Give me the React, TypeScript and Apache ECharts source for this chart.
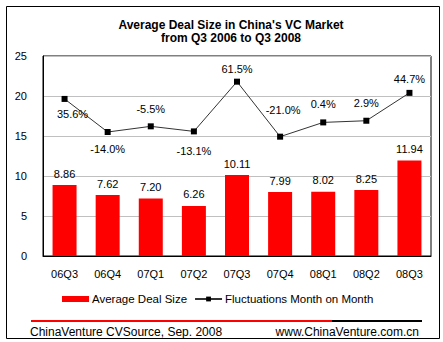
import React, { useEffect, useRef } from "react";
import * as echarts from "echarts";

const categories = ["06Q3", "06Q4", "07Q1", "07Q2", "07Q3", "07Q4", "08Q1", "08Q2", "08Q3"];
const dealSize = [8.86, 7.62, 7.2, 6.26, 10.11, 7.99, 8.02, 8.25, 11.94];
const fluctuation = [35.6, -14.0, -5.5, -13.1, 61.5, -21.0, 0.4, 2.9, 44.7];
const titleLines = ["Average Deal Size in China's VC Market", "from Q3 2006 to Q3 2008"];
const seriesNames = ["Average Deal Size", "Fluctuations Month on Month"];
const footerLeft = "ChinaVenture CVSource, Sep. 2008";
const footerRight = "www.ChinaVenture.com.cn";

// label placement styling for the line series (not data)
const lineLabelStyle: any[] = [
  { position: "bottom", distance: 7, offset: [8, 0] },
  { position: "bottom", distance: 8 },
  { position: "top", distance: 9 },
  { position: "bottom", distance: 11 },
  { position: "top", distance: 4 },
  { position: "top", distance: 5, offset: [3, -13] },
  { position: "top", distance: 10 },
  { position: "top", distance: 9 },
  { position: "top", distance: 5 },
];

const FONT = "Arial, 'Liberation Sans', sans-serif";

export default function App() {
  const ref = useRef<HTMLDivElement>(null);
  useEffect(() => {
    if (!ref.current) return;
    const chart = echarts.init(ref.current, null, { renderer: "svg" });
    chart.setOption({
      animation: false,
      backgroundColor: "#ffffff",
      textStyle: { fontFamily: FONT },
      title: {
        text: titleLines.join("\n"),
        left: 226,
        textAlign: "center",
        top: 13,
        textStyle: { fontFamily: FONT, fontSize: 12, fontWeight: "bold", color: "#000", lineHeight: 13 },
      },
      legend: {
        left: 62,
        top: 293,
        padding: 0,
        itemWidth: 27,
        itemHeight: 6,
        itemGap: 7,
        textStyle: { fontFamily: FONT, fontSize: 11.5, color: "#000", padding: [0, 0, 0, -2] },
        data: [
          { name: seriesNames[0], icon: "rect" },
          { name: seriesNames[1] },
        ],
      },
      grid: {
        left: 43,
        right: 12,
        top: 56,
        bottom: 86,
        show: true,
        borderColor: "#000",
        borderWidth: 1,
        containLabel: false,
      },
      xAxis: {
        type: "category",
        data: categories,
        axisLine: { lineStyle: { color: "#000", width: 1 } },
        axisTick: { show: false },
        axisLabel: { color: "#000", fontSize: 11, fontFamily: FONT, margin: 12 },
      },
      yAxis: [
        {
          type: "value",
          min: 0,
          max: 25,
          interval: 5,
          axisLine: { show: true, lineStyle: { color: "#000" } },
          axisTick: { show: false },
          axisLabel: { color: "#000", fontSize: 11, fontFamily: FONT, margin: 16 },
          splitLine: { lineStyle: { color: "#c0c0c0", width: 1 } },
        },
        {
          type: "value",
          min: -200,
          max: 100,
          show: false,
          splitLine: { show: false },
        },
      ],
      series: [
        {
          name: seriesNames[0],
          type: "bar",
          data: dealSize,
          barWidth: 24,
          itemStyle: { color: "#ff0000" },
          label: {
            show: true,
            position: "top",
            distance: 6,
            color: "#000",
            fontSize: 11,
            fontFamily: FONT,
            formatter: (p: any) => Number(p.value).toFixed(2),
          },
        },
        {
          name: seriesNames[1],
          type: "line",
          yAxisIndex: 1,
          data: fluctuation.map((v, i) => ({ value: v, label: lineLabelStyle[i] })),
          symbol: "rect",
          symbolSize: 6,
          itemStyle: { color: "#000" },
          lineStyle: { color: "#333", width: 1 },
          label: {
            show: true,
            color: "#000",
            fontSize: 11,
            fontFamily: FONT,
            formatter: (p: any) => Number(p.value).toFixed(1) + "%",
          },
        },
      ],
      graphic: [
        {
          type: "rect",
          shape: { x: 6.5, y: 6.5, width: 433, height: 332 },
          style: { fill: "none", stroke: "#000", lineWidth: 1 },
          silent: true,
        },
        {
          type: "line",
          shape: { x1: 31, y1: 321, x2: 332, y2: 321 },
          style: { stroke: "#ff0000", lineWidth: 2 },
        },
        {
          type: "line",
          shape: { x1: 332, y1: 321, x2: 422, y2: 321 },
          style: { stroke: "#000", lineWidth: 2 },
        },
        {
          type: "text",
          x: 30,
          y: 332,
          style: { text: footerLeft, fontFamily: FONT, fontSize: 12, fill: "#000", verticalAlign: "middle" },
        },
        {
          type: "text",
          x: 419,
          y: 332,
          style: { text: footerRight, fontFamily: FONT, fontSize: 12, fill: "#000", align: "right", verticalAlign: "middle" },
        },
      ],
    });
    return () => chart.dispose();
  }, []);
  return <div ref={ref} style={{ position: "absolute", left: 0, top: 0, width: 443, height: 342 }} />;
}
